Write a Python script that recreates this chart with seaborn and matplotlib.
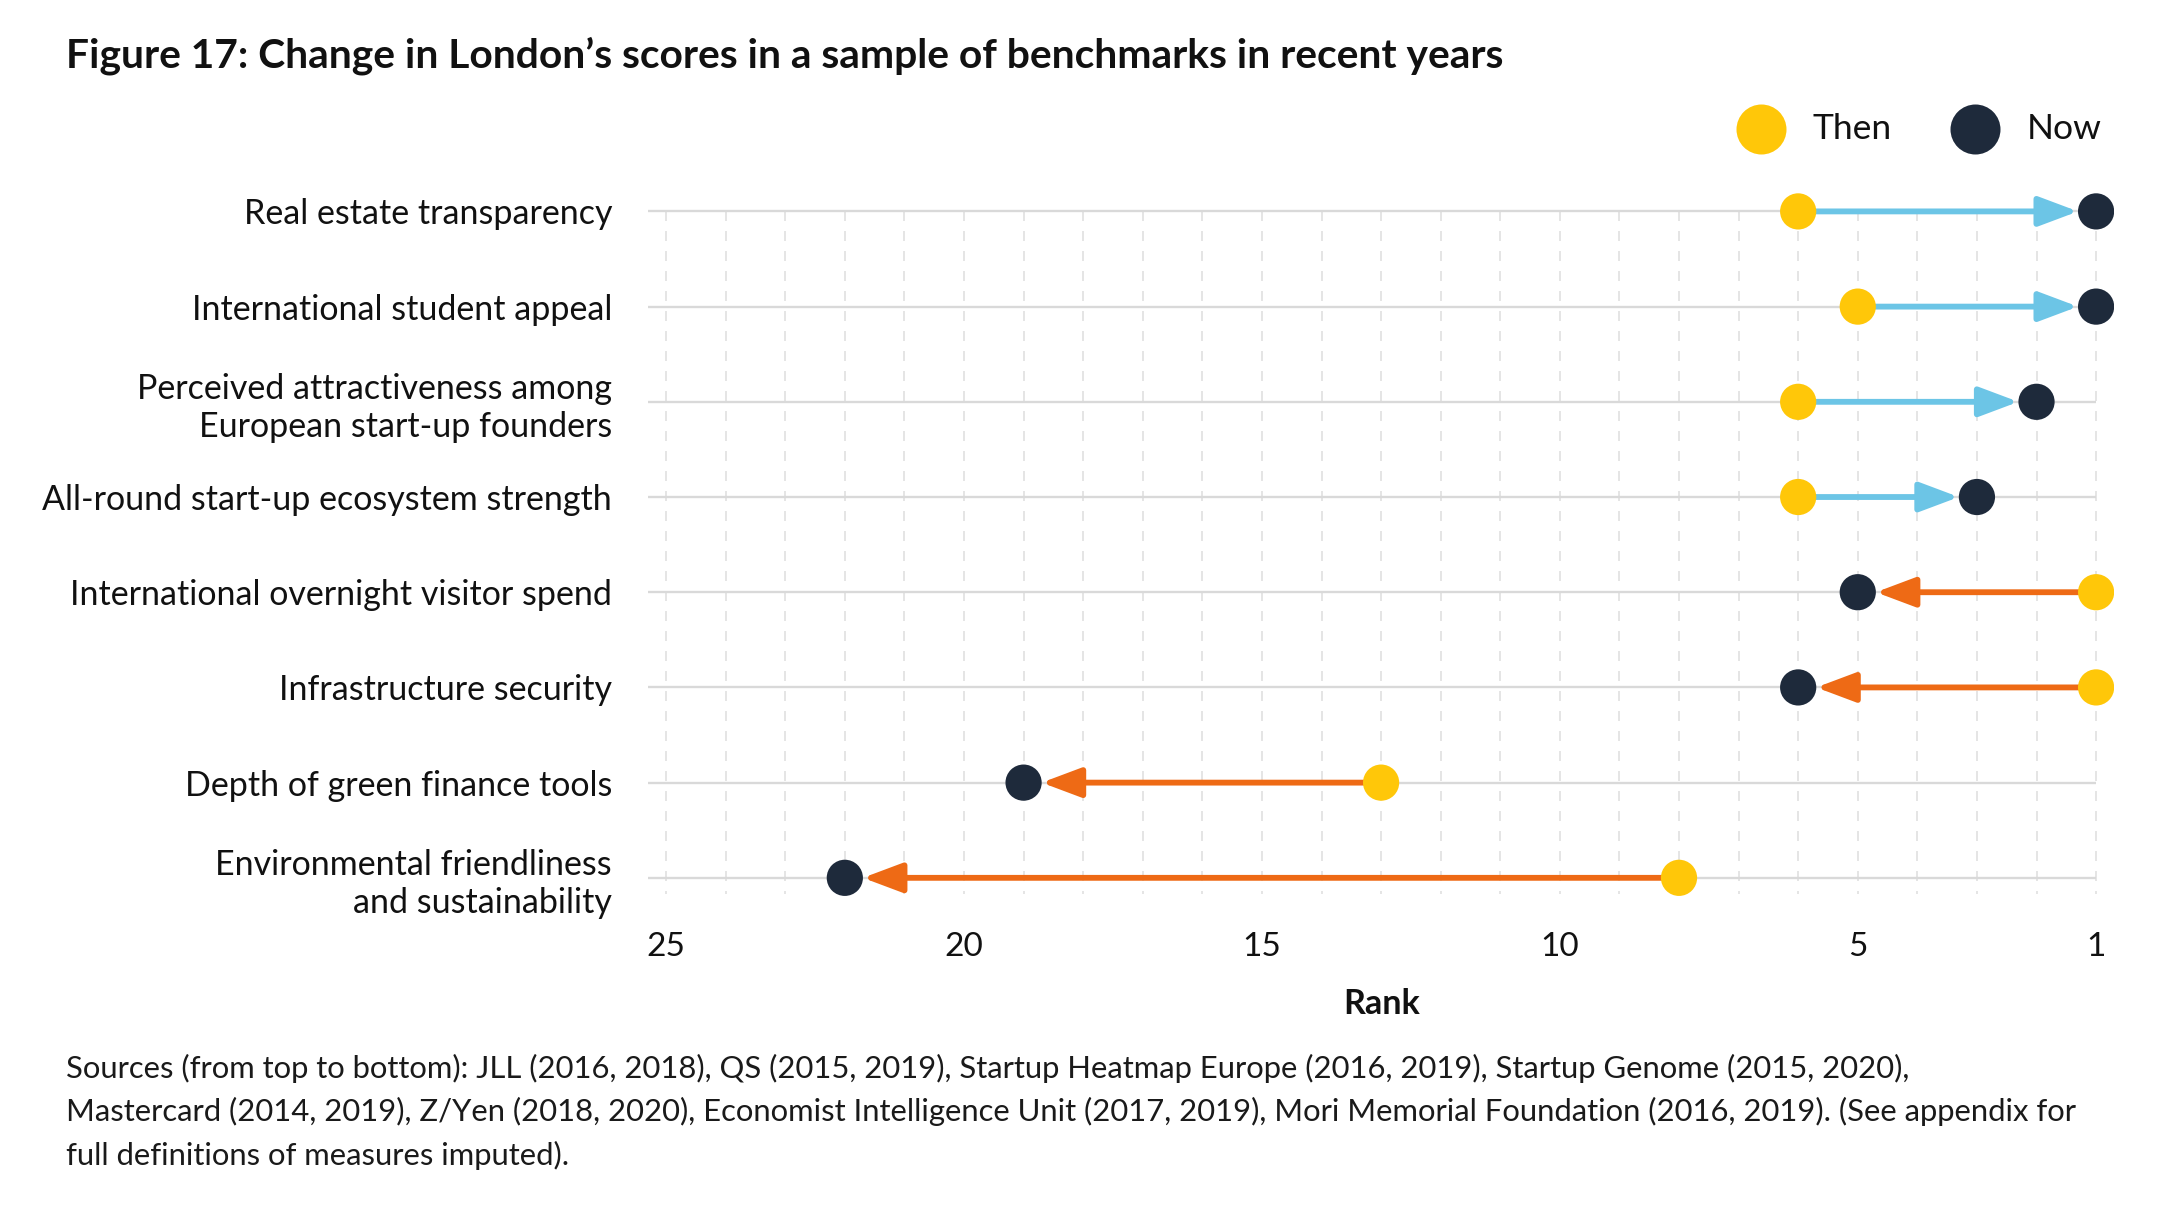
import matplotlib
matplotlib.use('Agg')
import matplotlib.pyplot as plt
import seaborn as sns
import pandas as pd
from matplotlib.patches import FancyArrowPatch
from matplotlib.lines import Line2D

categories = [
    "Real estate transparency",
    "International student appeal",
    "Perceived attractiveness among\nEuropean start-up founders",
    "All-round start-up ecosystem strength",
    "International overnight visitor spend",
    "Infrastructure security",
    "Depth of green finance tools",
    "Environmental friendliness\nand sustainability",
]
rank_then = [6, 5, 6, 6, 1, 1, 13, 8]
rank_now = [1, 1, 2, 3, 5, 6, 19, 22]
x_ticks = [25, 20, 15, 10, 5, 1]
legend_labels = ["Then", "Now"]
title = "Figure 17: Change in London\u2019s scores in a sample of benchmarks in recent years"
source_lines = [
    "Sources (from top to bottom): JLL (2016, 2018), QS (2015, 2019), Startup Heatmap Europe (2016, 2019), Startup Genome (2015, 2020),",
    "Mastercard (2014, 2019), Z/Yen (2018, 2020), Economist Intelligence Unit (2017, 2019), Mori Memorial Foundation (2016, 2019). (See appendix for",
    "full definitions of measures imputed).",
]

YELLOW = '#FFC709'
NAVY = '#1E2A3B'
BLUE = '#6CC5E6'
ORANGE = '#EE6A15'
TEXT = '#111111'

sns.set_theme(style='white')
plt.rcParams['font.family'] = ['Lato', 'DejaVu Sans']

W, H = 1549.3, 861.4
def fx(px):
    return px / W
def fy(py):
    return 1 - py / H

fig = plt.figure(figsize=(21.69, 12.06), dpi=100)
ax = fig.add_axes([fx(463), fy(650), fx(1510) - fx(463), fy(130) - fy(650)])

df = pd.DataFrame({'cat': categories, 'pos': range(len(categories)),
                   'then': rank_then, 'now': rank_now})
n = len(categories)

ax.hlines(df['pos'], 25.3, 1, color='#d9d9d9', lw=1.7, zorder=1)
ax.vlines(range(1, 26), 0, n - 1 + 0.17, color='#e0e0e0', lw=1.2,
          linestyles=(0, (6, 6)), zorder=0.5)

for _, r in df.iterrows():
    color = BLUE if r['now'] < r['then'] else ORANGE
    arr = FancyArrowPatch((r['then'], r['pos']), (r['now'], r['pos']),
                          arrowstyle='-|>,head_length=24,head_width=9',
                          mutation_scale=1, shrinkA=0, shrinkB=13, lw=4.2,
                          color=color, zorder=2)
    ax.add_patch(arr)

sns.scatterplot(data=df, x='then', y='pos', s=680, color=YELLOW, edgecolor='none',
                ax=ax, zorder=3, legend=False)
sns.scatterplot(data=df, x='now', y='pos', s=680, color=NAVY, edgecolor='none',
                ax=ax, zorder=3, legend=False)

ax.set_xlim(25.3, 0.7)
ax.set_ylim(n - 1 + (650 - 627) / 68, -21 / 68)
ax.set_xticks(x_ticks)
ax.set_xticklabels([str(t) for t in x_ticks], fontsize=24, color=TEXT)
ax.set_yticks(df['pos'])
ax.set_yticklabels(categories, fontsize=24.5, color=TEXT, linespacing=1.25)
ax.tick_params(axis='x', length=0, pad=16)
ax.tick_params(axis='y', length=0, pad=26)
ax.set_xlabel('')
ax.set_ylabel('')
for s in ax.spines.values():
    s.set_visible(False)
ax.grid(False)

fig.text(fx(987), fy(717), 'Rank', fontsize=24.5, weight='bold', ha='center',
         va='center', color=TEXT)
fig.text(fx(47), fy(40), title, fontsize=29.3, weight='bold', ha='left', va='center',
         color=TEXT)

# legend
fig.add_artist(Line2D([fx(1258)], [fy(92)], transform=fig.transFigure, marker='o',
                      markersize=36, color=YELLOW, markeredgewidth=0, linestyle='none'))
fig.text(fx(1295), fy(92), legend_labels[0], fontsize=25.5, ha='left', va='center',
         color=TEXT)
fig.add_artist(Line2D([fx(1411)], [fy(92)], transform=fig.transFigure, marker='o',
                      markersize=36, color=NAVY, markeredgewidth=0, linestyle='none'))
fig.text(fx(1448), fy(92), legend_labels[1], fontsize=25.5, ha='left', va='center',
         color=TEXT)

for i, line in enumerate(source_lines):
    fig.text(fx(47), fy(763 + 31 * i), line, fontsize=22.3, ha='left', va='center',
             color='#1a1a1a')

fig.savefig('out.png', dpi=100)
